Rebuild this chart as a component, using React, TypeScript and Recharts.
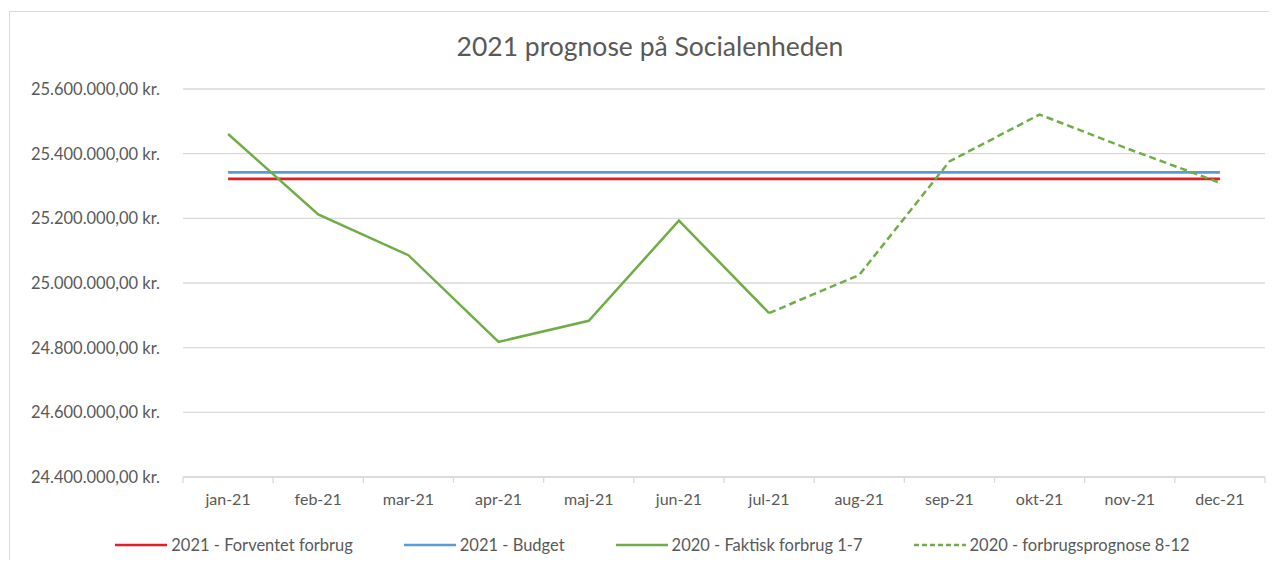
import { CartesianGrid, Legend, Line, LineChart, XAxis, YAxis } from "recharts";

const months = [
  "jan-21", "feb-21", "mar-21", "apr-21", "maj-21", "jun-21",
  "jul-21", "aug-21", "sep-21", "okt-21", "nov-21", "dec-21",
];

// 2021 - Forventet forbrug
const forventet = [
  25322000, 25322000, 25322000, 25322000, 25322000, 25322000,
  25322000, 25322000, 25322000, 25322000, 25322000, 25322000,
];

// 2021 - Budget
const budget = [
  25342000, 25342000, 25342000, 25342000, 25342000, 25342000,
  25342000, 25342000, 25342000, 25342000, 25342000, 25342000,
];

// 2020 - Faktisk forbrug 1-7
const faktisk = [
  25461000, 25212000, 25086000, 24818000, 24883000, 25193000,
  24907000, null, null, null, null, null,
];

// 2020 - forbrugsprognose 8-12
const prognose = [
  null, null, null, null, null, null,
  24907000, 25025000, 25376000, 25521000, 25413000, 25310000,
];

const yTicks = [24400000, 24600000, 24800000, 25000000, 25200000, 25400000, 25600000];

const data = months.map((month, i) => ({
  month,
  forventet: forventet[i],
  budget: budget[i],
  faktisk: faktisk[i],
  prognose: prognose[i],
}));

const FONT = "Lato, 'Open Sans', sans-serif";
const TEXT = "#595959";
const GRID = "#d9d9d9";
const PLOT_LEFT = 183;
const PLOT_RIGHT = 1265;
const STEP = (PLOT_RIGHT - PLOT_LEFT) / months.length;

const kr = (v: number) =>
  v.toFixed(0).replace(/\B(?=(\d{3})+(?!\d))/g, ".") + ",00 kr.";

function MonthTick(props: any) {
  const { x, y, payload, index } = props;
  return (
    <g>
      <line x1={x - STEP / 2} y1={y} x2={x - STEP / 2} y2={y + 6} stroke={GRID} strokeWidth={1.3} />
      {index === months.length - 1 && (
        <line x1={x + STEP / 2} y1={y} x2={x + STEP / 2} y2={y + 6} stroke={GRID} strokeWidth={1.3} />
      )}
      <text
        x={x}
        y={y + 21}
        textAnchor="middle"
        dominantBaseline="central"
        fill={TEXT}
        fontSize={16}
        fontFamily={FONT}
      >
        {payload.value}
      </text>
    </g>
  );
}

const legendItems = [
  { label: "2021 - Forventet forbrug", color: "#e31e24", dash: undefined },
  { label: "2021 - Budget", color: "#5b9bd5", dash: undefined },
  { label: "2020 - Faktisk forbrug 1-7", color: "#70ad47", dash: undefined },
  { label: "2020 - forbrugsprognose 8-12", color: "#70ad47", dash: "5 3" },
];

function LegendContent() {
  return (
    <div
      style={{
        display: "flex",
        justifyContent: "center",
        gap: 50,
        paddingLeft: 27,
        fontFamily: FONT,
        fontSize: 16.5,
        color: TEXT,
      }}
    >
      {legendItems.map((item) => (
        <div key={item.label} style={{ display: "flex", alignItems: "center" }}>
          <svg width={54} height={10}>
            <line
              x1={1}
              y1={5}
              x2={53}
              y2={5}
              stroke={item.color}
              strokeWidth={2.7}
              strokeDasharray={item.dash}
            />
          </svg>
          <span style={{ marginLeft: 3 }}>{item.label}</span>
        </div>
      ))}
    </div>
  );
}

export default function App() {
  return (
    <div
      style={{
        position: "relative",
        width: 1277,
        height: 568,
        margin: -8,
        overflow: "hidden",
        background: "#fff",
      }}
    >
      <div
        style={{
          position: "absolute",
          left: 9,
          top: 11,
          width: 1290,
          height: 600,
          border: `1px solid ${GRID}`,
        }}
      />
      <div
        style={{
          position: "absolute",
          top: 30,
          left: 0,
          width: 1300,
          textAlign: "center",
          fontFamily: FONT,
          fontSize: 26.5,
          color: TEXT,
        }}
      >
        2021 prognose på Socialenheden
      </div>
      <LineChart
        width={1277}
        height={568}
        data={data}
        margin={{ top: 89, right: 1277 - PLOT_RIGHT, left: 0, bottom: 41 }}
        style={{ position: "absolute", left: 0, top: 0 }}
      >
        <CartesianGrid horizontal vertical={false} stroke={GRID} strokeWidth={1.3} />
        <XAxis
          dataKey="month"
          axisLine={{ stroke: GRID, strokeWidth: 1.3 }}
          tickLine={false}
          tickSize={0}
          tickMargin={0}
          height={30}
          interval={0}
          padding={{ left: STEP / 2, right: STEP / 2 }}
          tick={<MonthTick />}
        />
        <YAxis
          width={PLOT_LEFT}
          domain={[24400000, 25600000]}
          ticks={yTicks}
          interval={0}
          axisLine={false}
          tickLine={false}
          tickSize={0}
          tickMargin={23}
          tickFormatter={kr}
          tick={{ fill: TEXT, fontSize: 16.5, fontFamily: FONT }}
        />
        <Legend
          verticalAlign="bottom"
          content={<LegendContent />}
          wrapperStyle={{ position: "absolute", top: 535, left: 0, width: 1277 }}
        />
        <Line
          dataKey="forventet"
          stroke="#e31e24"
          strokeWidth={2.7}
          dot={false}
          isAnimationActive={false}
        />
        <Line
          dataKey="budget"
          stroke="#5b9bd5"
          strokeWidth={2.7}
          dot={false}
          isAnimationActive={false}
        />
        <Line
          type="linear"
          dataKey="faktisk"
          stroke="#70ad47"
          strokeWidth={2.5}
          dot={false}
          isAnimationActive={false}
        />
        <Line
          type="linear"
          dataKey="prognose"
          stroke="#70ad47"
          strokeWidth={2.5}
          strokeDasharray="7 4"
          dot={false}
          isAnimationActive={false}
        />
      </LineChart>
    </div>
  );
}
